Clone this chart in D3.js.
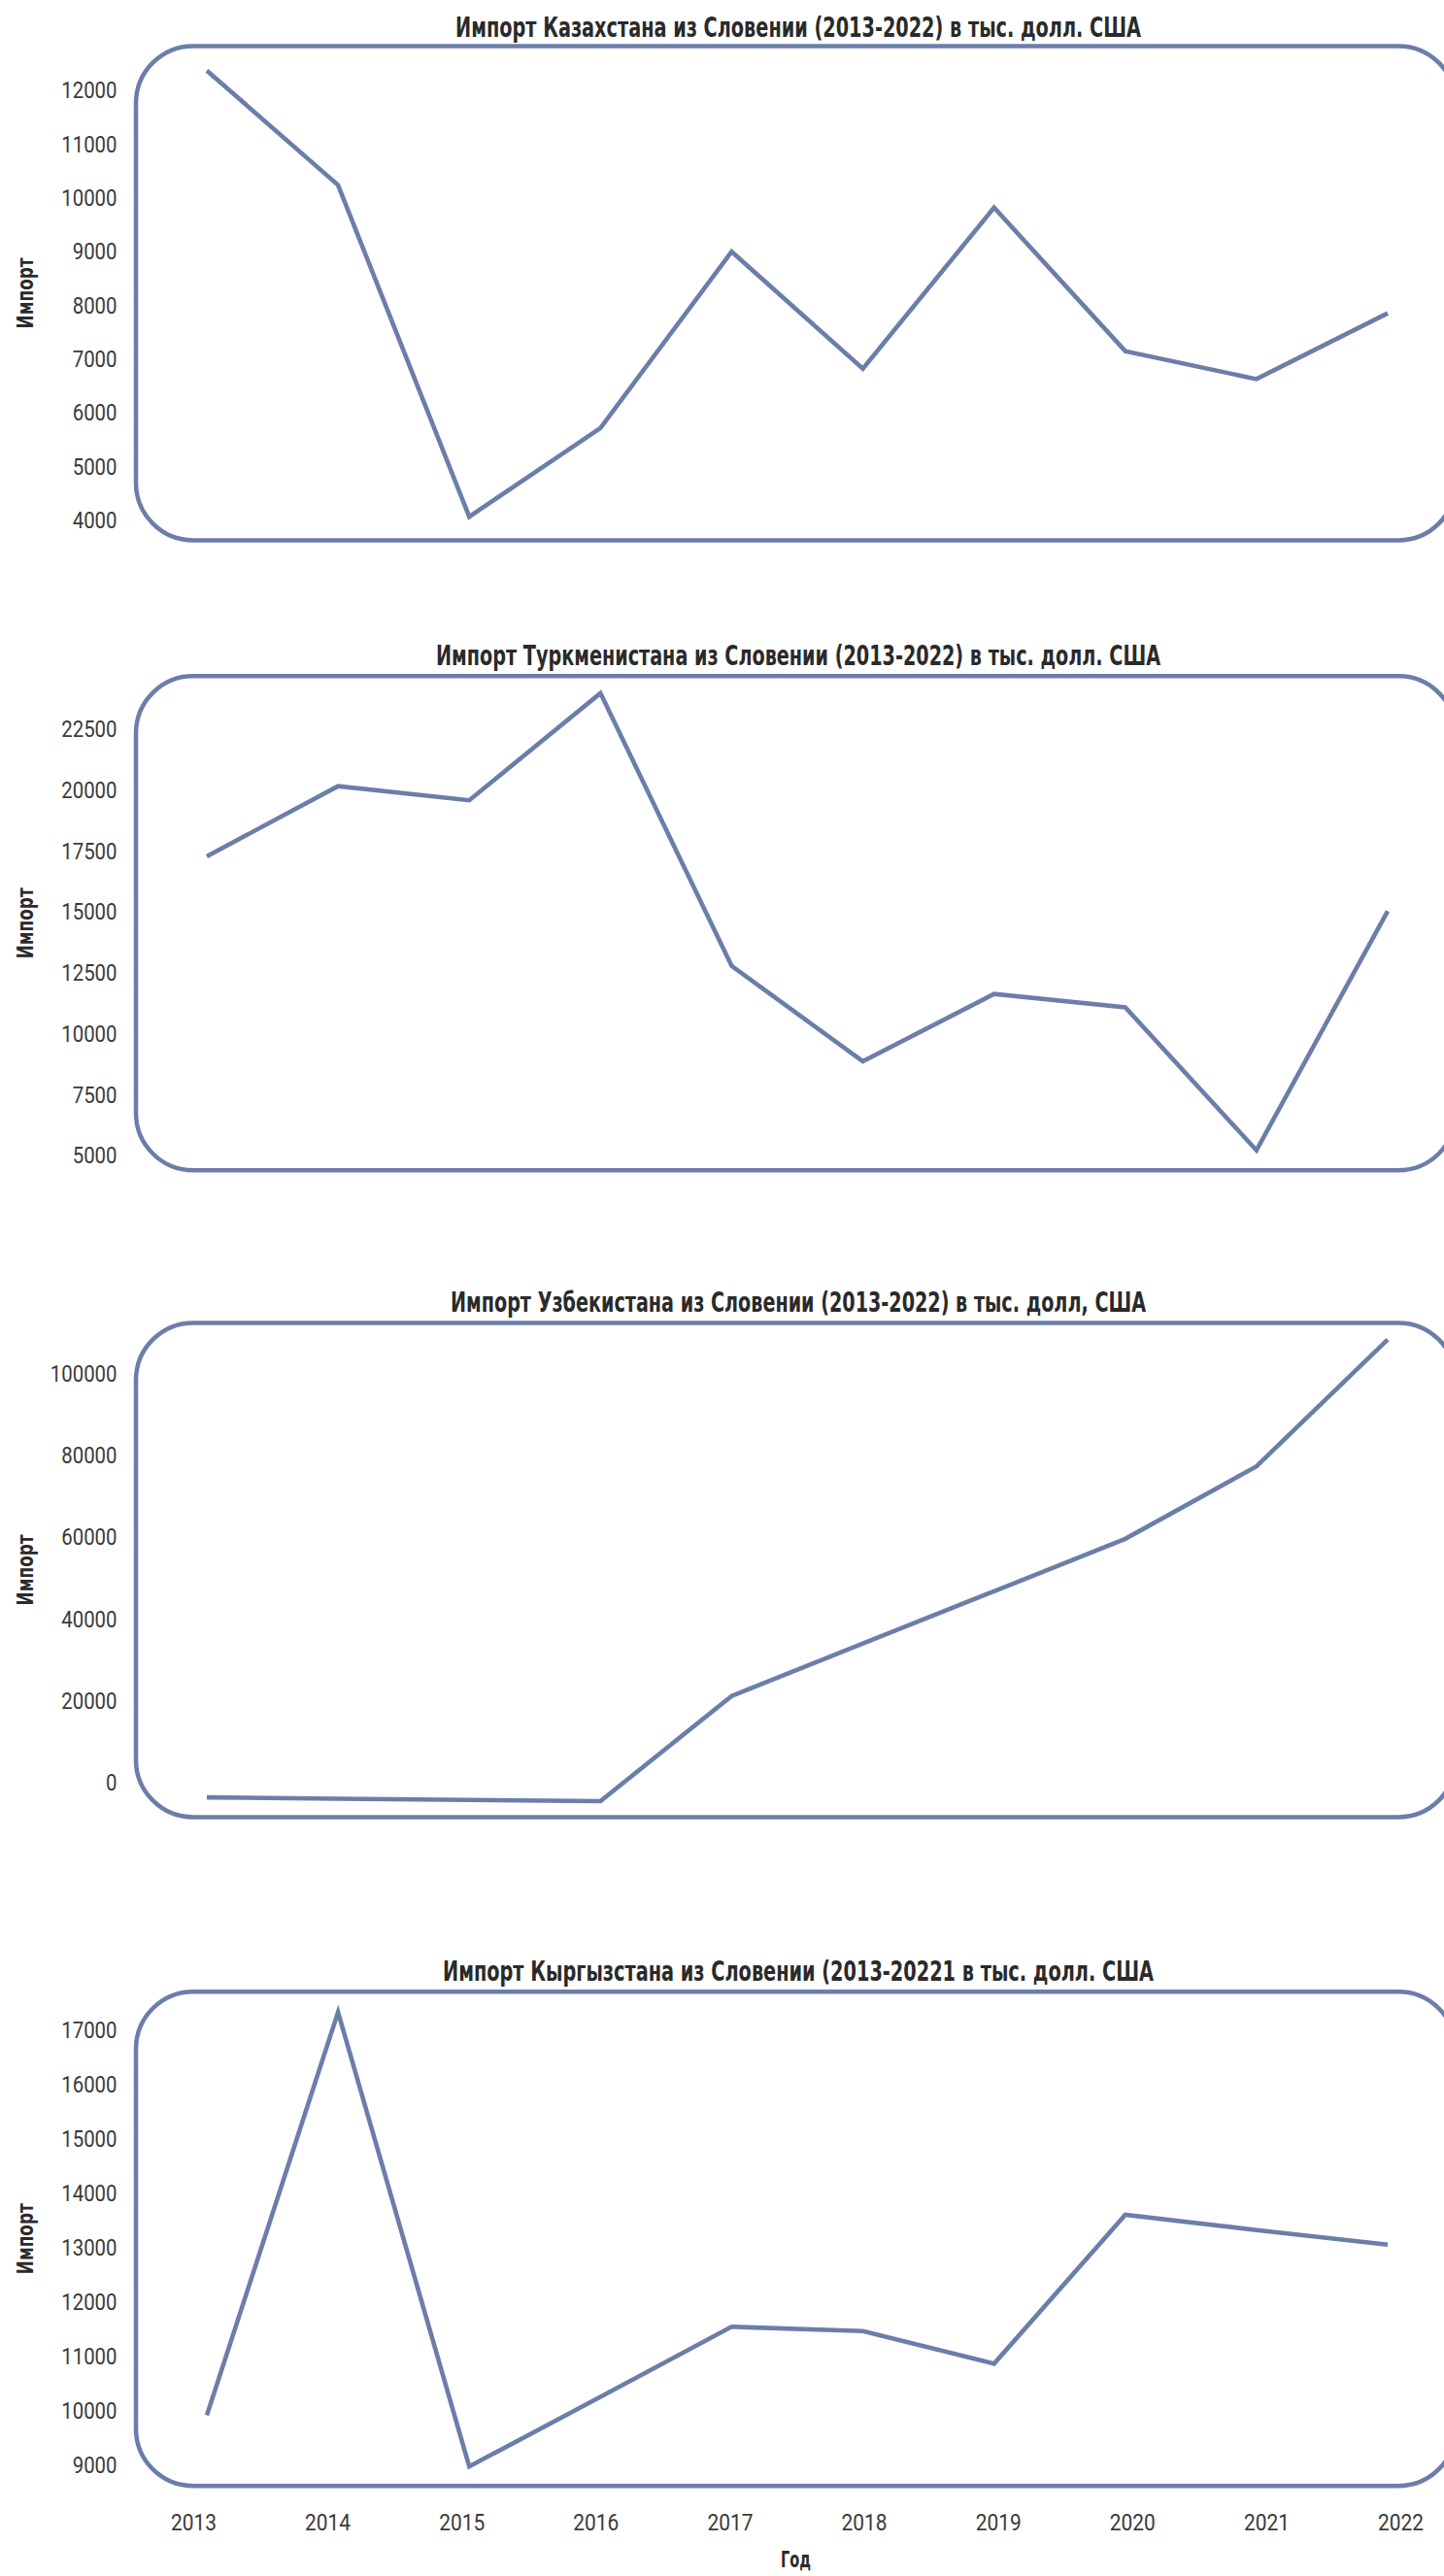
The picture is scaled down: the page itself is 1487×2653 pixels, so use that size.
<!DOCTYPE html>
<html>
<head>
<meta charset="utf-8">
<script src="https://cdn.jsdelivr.net/npm/d3@7"></script>
<style>
  html, body { margin: 0; padding: 0; background: #ffffff; }
  svg { display: block; }
</style>
</head>
<body>
<script>
// ---------------- data ----------------
const years = [2013, 2014, 2015, 2016, 2017, 2018, 2019, 2020, 2021, 2022];

const titles = [
  "Импорт Казахстана из Словении (2013-2022) в тыс. долл. США",
  "Импорт Туркменистана из Словении (2013-2022) в тыс. долл. США",
  "Импорт Узбекистана из Словении (2013-2022) в тыс. долл, США",
  "Импорт Кыргызстана из Словении (2013-20221 в тыс. долл. США"
];

const kazakhstan   = [12350, 10220, 4050, 5700, 8980, 6805, 9800, 7130, 6610, 7835];
const turkmenistan = [17250, 20130, 19550, 23950, 12750, 8830, 11600, 11050, 5180, 15000];
const uzbekistan   = [-3800, -4100, -4400, -4700, 21000, 33800, 46600, 59400, 77100, 108100];
const kyrgyzstan   = [9900, 17320, 8960, 10240, 11530, 11450, 10850, 13590, 13310, 13040];

const kzTicks = [4000, 5000, 6000, 7000, 8000, 9000, 10000, 11000, 12000];
const tmTicks = [5000, 7500, 10000, 12500, 15000, 17500, 20000, 22500];
const uzTicks = [0, 20000, 40000, 60000, 80000, 100000];
const kgTicks = [9000, 10000, 11000, 12000, 13000, 14000, 15000, 16000, 17000];

const kzDomain = [3612, 12806];
const tmDomain = [4358, 24650];
const uzDomain = [-8600, 112180];
const kgDomain = [8602, 17696];

const yLabel = "Импорт";
const xLabel = "Год";

// ---------------- layout / style ----------------
const W = 1487, H = 2653;
const panelTops = [47.4, 696.3, 1362.4, 2051.2];
const panelH = 509;
const boxLeft = 140, boxRight = 1499, boxR = 59;
const titleWidths = [706, 746, 716, 732];
const titleBaselineOffset = [-9.4, -11.3, -11.4, -11.2];
const lineColor = "#6b7ea9";
const textColor = "#2a2a2a";
const tickColor = "#3a3a3a";
const digitW = 11.45;
const FONT = "'Liberation Sans Narrow', 'DejaVu Sans Condensed', 'Roboto Condensed', 'Arial Narrow', sans-serif";
const TICKFONT = "Roboto, 'Liberation Sans', sans-serif";

const series = [kazakhstan, turkmenistan, uzbekistan, kyrgyzstan];
const tickSets = [kzTicks, tmTicks, uzTicks, kgTicks];
const domains = [kzDomain, tmDomain, uzDomain, kgDomain];

const svg = d3.select("body").append("svg")
  .attr("width", W).attr("height", H)
  .attr("viewBox", `0 0 ${W} ${H}`);

svg.append("rect").attr("width", W).attr("height", H).attr("fill", "#ffffff");

// x scales: one for the data line, one for the tick labels
const xLine = d3.scaleLinear().domain([2013, 2022]).range([213, 1429]);
const xAxisScale = d3.scaleLinear().domain([2013, 2022]).range([199, 1442]);

function styleTicks(sel) {
  sel.attr("font-family", TICKFONT)
    .attr("font-weight", 400)
    .attr("font-size", 24)
    .attr("fill", tickColor)
    .attr("lengthAdjust", "spacingAndGlyphs")
    .attr("textLength", function () { return this.textContent.length * digitW; });
}

series.forEach((vals, i) => {
  const top = panelTops[i];
  const bottom = top + panelH;
  const y = d3.scaleLinear().domain(domains[i]).range([bottom, top]);
  const g = svg.append("g");

  // rounded frame
  g.append("rect")
    .attr("x", boxLeft).attr("y", top)
    .attr("width", boxRight - boxLeft).attr("height", panelH)
    .attr("rx", boxR).attr("ry", boxR)
    .attr("fill", "none")
    .attr("stroke", lineColor)
    .attr("stroke-width", 4.5);

  // title
  g.append("text")
    .attr("x", 822).attr("y", top + titleBaselineOffset[i])
    .attr("text-anchor", "middle")
    .attr("font-family", FONT)
    .attr("font-weight", "bold")
    .attr("font-size", 28)
    .attr("fill", textColor)
    .attr("textLength", titleWidths[i])
    .attr("lengthAdjust", "spacingAndGlyphs")
    .text(titles[i]);

  // y axis
  const yAxis = d3.axisLeft(y).tickValues(tickSets[i]).tickSize(0).tickPadding(19.5)
    .tickFormat(d3.format("d"));
  const ya = g.append("g").attr("transform", `translate(${boxLeft},0)`).call(yAxis);
  ya.select(".domain").remove();
  ya.attr("font-family", null);
  styleTicks(ya.selectAll("text").attr("dy", "0.36em"));

  // y label
  g.append("text")
    .attr("transform", `translate(34,${top + panelH / 2}) rotate(-90)`)
    .attr("text-anchor", "middle")
    .attr("font-family", FONT)
    .attr("font-weight", "bold")
    .attr("font-size", 23)
    .attr("fill", textColor)
    .attr("textLength", 73)
    .attr("lengthAdjust", "spacingAndGlyphs")
    .text(yLabel);

  // line
  const line = d3.line().x((d, k) => xLine(years[k])).y(d => y(d));
  g.append("path")
    .datum(vals)
    .attr("d", line)
    .attr("fill", "none")
    .attr("stroke", lineColor)
    .attr("stroke-width", 4.6)
    .attr("stroke-linejoin", "miter")
    .attr("stroke-linecap", "butt");

  // x axis on the last panel only
  if (i === series.length - 1) {
    const xAxis = d3.axisBottom(xAxisScale).tickValues(years).tickSize(0).tickPadding(28.5)
      .tickFormat(d3.format("d"));
    const xa = g.append("g").attr("transform", `translate(0,${bottom})`).call(xAxis);
    xa.select(".domain").remove();
    xa.attr("font-family", null);
    styleTicks(xa.selectAll("text"));
    xa.selectAll("text").attr("textLength", 47);
    g.append("text")
      .attr("x", 819.5).attr("y", 2644)
      .attr("text-anchor", "middle")
      .attr("font-family", FONT)
      .attr("font-weight", "bold")
      .attr("font-size", 23)
      .attr("fill", textColor)
      .attr("textLength", 31)
      .attr("lengthAdjust", "spacingAndGlyphs")
      .text(xLabel);
  }
});
</script>
</body>
</html>
